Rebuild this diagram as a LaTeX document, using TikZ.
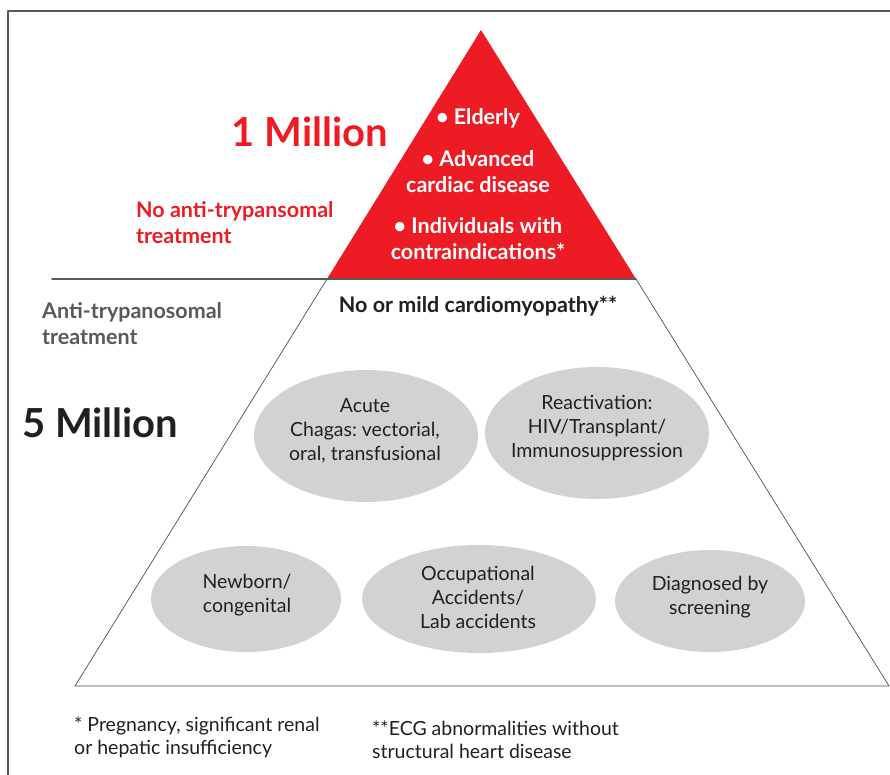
\documentclass[tikz,border=0pt]{standalone}
\usepackage{fontspec}
\setmainfont{Lato}
\frenchspacing
\definecolor{chagasred}{HTML}{ED1C24}
\definecolor{ovalgray}{HTML}{D1D2D4}
\definecolor{labelgray}{HTML}{58595B}
\definecolor{inkblack}{HTML}{231F20}
\begin{document}
\begin{tikzpicture}[x=1pt,y=-1pt,line join=round,line cap=round,
 oval/.style={align=center,text=inkblack,font=\fontsize{19.5}{24}\selectfont},
 bignum/.style={font=\fontsize{40}{42}\selectfont\bfseries},
 redtext/.style={text=white,align=center,font=\fontsize{21.5}{26}\selectfont\bfseries},
 sidetext/.style={anchor=west,align=left,inner sep=0pt,font=\fontsize{21.5}{26}\selectfont\bfseries},
 note/.style={anchor=west,align=left,inner sep=0pt,text=inkblack,font=\fontsize{19.5}{23}\selectfont}]
 \def \apx{481}\def \apy{30}\def \basey{279}\def \floory{686}
 \useasboundingbox (0,0) rectangle (890,775);
 % frame
 \draw[labelgray,line width=2pt,line cap=butt] (8,775)--(8,11)--(890,11);
 % pyramid
 \coordinate (apex) at (\apx,\apy);
 \coordinate (bl) at (327,\basey);
 \coordinate (br) at (636,\basey);
 \coordinate (fl) at (75,\floory);
 \coordinate (fr) at (889,\floory);
 \coordinate (cut) at (52,\basey);
 \fill[chagasred] (apex)--(bl)--(br)--cycle;
 \draw[inkblack!80,line width=0.7pt] (bl)--(fl)--(fr)--(br);
 \draw[labelgray,line width=1.5pt] (cut)--(br);
 % top tier
 \node[bignum,text=chagasred] (onemil) at (310,132) {1 Million};
 \node[sidetext,text=chagasred] (notreat) at (136,223) {No anti-trypansomal\\treatment};
 \node[redtext] (elderly) at (478,118) {• Elderly};
 \node[redtext] (advanced) at (478,172) {• Advanced\\cardiac disease};
 \node[redtext] (contra) at (478,239) {• Individuals with\\contraindications*};
 % bottom tier
 \node[sidetext,text=labelgray] (treat) at (42,324) {Anti-trypanosomal\\treatment};
 \node[bignum,text=inkblack,anchor=west,inner sep=0pt] (fivemil) at (22,423) {5 Million};
 \node[font=\fontsize{21.5}{26}\selectfont\bfseries,text=inkblack] (mild) at (478,306) {No or mild cardiomyopathy**};
 \fill[ovalgray] (366,436) ellipse[x radius=112,y radius=66]
  (597,433) ellipse[x radius=112,y radius=66]
  (246,599) ellipse[x radius=95,y radius=53]
  (479,599) ellipse[x radius=117,y radius=54]
  (710,601) ellipse[x radius=95,y radius=51];
 \node[oval] (acute) at (365,431) {Acute\\Chagas: vectorial,\\oral, transfusional};
 \node[oval] (react) at (597,428) {Reactivation:\\HIV/Transplant/\\Immunosuppression};
 \node[oval] (newborn) at (247,595) {Newborn/\\congenital};
 \node[oval] (occup) at (478,597) {Occupational\\Accidents/\\Lab accidents};
 \node[oval] (screen) at (710,597) {Diagnosed by\\screening};
 % footnotes
 \node[note] (fnone) at (74,737) {* Pregnancy, significant renal\\or hepatic insufficiency};
 \node[note] (fntwo) at (372,740) {**ECG abnormalities without\\structural heart disease};
\end{tikzpicture}
\end{document}
